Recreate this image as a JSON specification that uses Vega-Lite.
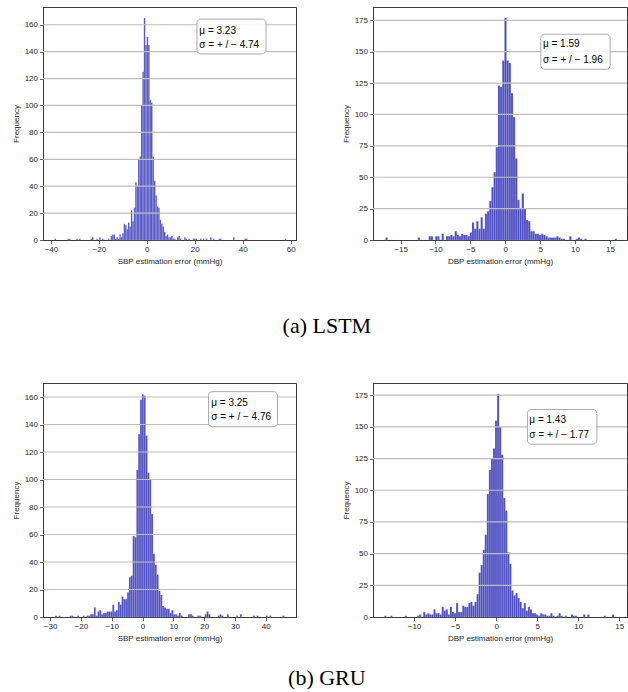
{
 "$schema": "https://vega.github.io/schema/vega-lite/v6.json",
 "background": "white",
 "padding": {"left": 11, "top": 6, "right": 0, "bottom": 0},
 "config": {
  "view": {"stroke": "#3a3a3a", "strokeWidth": 1},
  "axis": {"labelFont": "Liberation Sans", "labelFontSize": 8, "labelColor": "#262626", "titleFont": "Liberation Sans", "titleFontSize": 8, "titleFontWeight": "normal", "titleColor": "#262626", "tickColor": "#3a3a3a", "tickSize": 3.5, "tickWidth": 0.8, "domainColor": "#3a3a3a", "grid": false, "zindex": 1, "labelPadding": 2, "titlePadding": 4, "labelFlush": false, "labelOverlap": false, "labelBound": false},
  "axisY": {"titlePadding": 4}
 },
 "datasets": {
  "A": [{"s":-38.45,"e":-37.85,"n":1},{"s":-33.05,"e":-32.45,"n":1},{"s":-32.45,"e":-31.85,"n":1},{"s":-29.45,"e":-28.85,"n":1},{"s":-28.25,"e":-27.65,"n":1},{"s":-23.45,"e":-22.85,"n":1},{"s":-22.85,"e":-22.25,"n":2},{"s":-21.05,"e":-20.45,"n":1},{"s":-19.85,"e":-19.25,"n":2},{"s":-18.65,"e":-18.05,"n":1},{"s":-16.25,"e":-15.65,"n":1},{"s":-15.05,"e":-14.45,"n":3},{"s":-14.45,"e":-13.85,"n":4},{"s":-13.85,"e":-13.25,"n":4},{"s":-13.25,"e":-12.65,"n":1},{"s":-12.65,"e":-12.05,"n":2},{"s":-12.05,"e":-11.45,"n":1},{"s":-11.45,"e":-10.85,"n":4},{"s":-10.85,"e":-10.25,"n":2},{"s":-10.25,"e":-9.65,"n":5},{"s":-9.65,"e":-9.05,"n":12},{"s":-9.05,"e":-8.45,"n":11},{"s":-8.45,"e":-7.85,"n":8},{"s":-7.85,"e":-7.25,"n":13},{"s":-7.25,"e":-6.65,"n":10},{"s":-6.65,"e":-6.05,"n":22},{"s":-6.05,"e":-5.45,"n":14},{"s":-5.45,"e":-4.85,"n":24},{"s":-4.85,"e":-4.25,"n":43},{"s":-4.25,"e":-3.65,"n":40},{"s":-3.65,"e":-3.05,"n":60},{"s":-3.05,"e":-2.45,"n":62},{"s":-2.45,"e":-1.85,"n":100},{"s":-1.85,"e":-1.25,"n":125},{"s":-1.25,"e":-0.65,"n":165},{"s":-0.65,"e":-0.05,"n":145},{"s":-0.05,"e":0.55,"n":151},{"s":0.55,"e":1.15,"n":145},{"s":1.15,"e":1.75,"n":104},{"s":1.75,"e":2.35,"n":102},{"s":2.35,"e":2.95,"n":62},{"s":2.95,"e":3.55,"n":44},{"s":3.55,"e":4.15,"n":33},{"s":4.15,"e":4.75,"n":25},{"s":4.75,"e":5.35,"n":24},{"s":5.35,"e":5.95,"n":15},{"s":5.95,"e":6.55,"n":12},{"s":6.55,"e":7.15,"n":10},{"s":7.15,"e":7.75,"n":6},{"s":7.75,"e":8.35,"n":3},{"s":8.35,"e":8.95,"n":4},{"s":8.95,"e":9.55,"n":2},{"s":9.55,"e":10.15,"n":2},{"s":10.15,"e":10.75,"n":3},{"s":10.75,"e":11.35,"n":1},{"s":11.35,"e":11.95,"n":1},{"s":12.55,"e":13.15,"n":2},{"s":13.15,"e":13.75,"n":3},{"s":13.75,"e":14.35,"n":1},{"s":15.55,"e":16.15,"n":2},{"s":16.15,"e":16.75,"n":1},{"s":17.35,"e":17.95,"n":1},{"s":19.15,"e":19.75,"n":1},{"s":19.75,"e":20.35,"n":1},{"s":20.35,"e":20.95,"n":1},{"s":22.15,"e":22.75,"n":1},{"s":23.35,"e":23.95,"n":1},{"s":24.55,"e":25.15,"n":1},{"s":26.35,"e":26.95,"n":2},{"s":27.55,"e":28.15,"n":1},{"s":29.95,"e":30.55,"n":1},{"s":30.55,"e":31.15,"n":1},{"s":35.95,"e":36.55,"n":2},{"s":40.75,"e":41.35,"n":1},{"s":41.35,"e":41.95,"n":1},{"s":57.55,"e":58.15,"n":1}],
  "B": [{"s":-17.17,"e":-16.86,"n":2},{"s":-12.52,"e":-12.21,"n":2},{"s":-10.97,"e":-10.66,"n":3},{"s":-10.66,"e":-10.35,"n":3},{"s":-10.04,"e":-9.73,"n":3},{"s":-9.73,"e":-9.42,"n":3},{"s":-9.11,"e":-8.8,"n":5},{"s":-8.49,"e":-8.18,"n":3},{"s":-8.18,"e":-7.87,"n":3},{"s":-7.87,"e":-7.56,"n":4},{"s":-7.56,"e":-7.25,"n":3},{"s":-7.25,"e":-6.94,"n":7},{"s":-6.94,"e":-6.63,"n":4},{"s":-6.63,"e":-6.32,"n":3},{"s":-6.32,"e":-6.01,"n":5},{"s":-6.01,"e":-5.7,"n":4},{"s":-5.7,"e":-5.39,"n":4},{"s":-5.39,"e":-5.08,"n":3},{"s":-5.08,"e":-4.77,"n":6},{"s":-4.77,"e":-4.46,"n":14},{"s":-4.46,"e":-4.15,"n":9},{"s":-4.15,"e":-3.84,"n":15},{"s":-3.84,"e":-3.53,"n":9},{"s":-3.53,"e":-3.22,"n":18},{"s":-3.22,"e":-2.91,"n":9},{"s":-2.91,"e":-2.6,"n":21},{"s":-2.6,"e":-2.29,"n":23},{"s":-2.29,"e":-1.98,"n":31},{"s":-1.98,"e":-1.67,"n":42},{"s":-1.67,"e":-1.36,"n":54},{"s":-1.36,"e":-1.05,"n":74},{"s":-1.05,"e":-0.74,"n":123},{"s":-0.74,"e":-0.43,"n":122},{"s":-0.43,"e":-0.12,"n":143},{"s":-0.12,"e":0.19,"n":177},{"s":0.19,"e":0.5,"n":143},{"s":0.5,"e":0.81,"n":141},{"s":0.81,"e":1.12,"n":117},{"s":1.12,"e":1.43,"n":98},{"s":1.43,"e":1.74,"n":65},{"s":1.74,"e":2.05,"n":32},{"s":2.05,"e":2.36,"n":25},{"s":2.36,"e":2.67,"n":37},{"s":2.67,"e":2.98,"n":25},{"s":2.98,"e":3.29,"n":16},{"s":3.29,"e":3.6,"n":15},{"s":3.6,"e":3.91,"n":7},{"s":3.91,"e":4.22,"n":7},{"s":4.22,"e":4.53,"n":5},{"s":4.53,"e":4.84,"n":5},{"s":4.84,"e":5.15,"n":4},{"s":5.15,"e":5.46,"n":5},{"s":5.46,"e":5.77,"n":4},{"s":5.77,"e":6.08,"n":3},{"s":6.08,"e":6.39,"n":2},{"s":6.39,"e":6.7,"n":2},{"s":6.7,"e":7.01,"n":2},{"s":7.01,"e":7.32,"n":2},{"s":7.32,"e":7.63,"n":3},{"s":7.63,"e":7.94,"n":2},{"s":7.94,"e":8.25,"n":1},{"s":8.25,"e":8.56,"n":1},{"s":9.18,"e":9.49,"n":3},{"s":10.11,"e":10.42,"n":1},{"s":10.42,"e":10.73,"n":2},{"s":10.73,"e":11.04,"n":1},{"s":11.35,"e":11.66,"n":1},{"s":15.69,"e":16.0,"n":1}],
  "C": [{"s":-28.4,"e":-27.8,"n":1},{"s":-27.2,"e":-26.6,"n":1},{"s":-23.6,"e":-23.0,"n":1},{"s":-23.0,"e":-22.4,"n":1},{"s":-21.2,"e":-20.6,"n":1},{"s":-19.4,"e":-18.8,"n":1},{"s":-18.2,"e":-17.6,"n":1},{"s":-17.6,"e":-17.0,"n":1},{"s":-17.0,"e":-16.4,"n":2},{"s":-16.4,"e":-15.8,"n":2},{"s":-15.8,"e":-15.2,"n":7},{"s":-15.2,"e":-14.6,"n":1},{"s":-14.6,"e":-14.0,"n":4},{"s":-14.0,"e":-13.4,"n":5},{"s":-13.4,"e":-12.8,"n":2},{"s":-12.8,"e":-12.2,"n":3},{"s":-12.2,"e":-11.6,"n":3},{"s":-11.6,"e":-11.0,"n":4},{"s":-11.0,"e":-10.4,"n":4},{"s":-10.4,"e":-9.8,"n":4},{"s":-9.8,"e":-9.2,"n":9},{"s":-9.2,"e":-8.6,"n":4},{"s":-8.6,"e":-8.0,"n":5},{"s":-8.0,"e":-7.4,"n":11},{"s":-7.4,"e":-6.8,"n":9},{"s":-6.8,"e":-6.2,"n":15},{"s":-6.2,"e":-5.6,"n":13},{"s":-5.6,"e":-5.0,"n":13},{"s":-5.0,"e":-4.4,"n":18},{"s":-4.4,"e":-3.8,"n":29},{"s":-3.8,"e":-3.2,"n":30},{"s":-3.2,"e":-2.6,"n":59},{"s":-2.6,"e":-2.0,"n":58},{"s":-2.0,"e":-1.4,"n":107},{"s":-1.4,"e":-0.8,"n":133},{"s":-0.8,"e":-0.2,"n":158},{"s":-0.2,"e":0.4,"n":162},{"s":0.4,"e":1.0,"n":161},{"s":1.0,"e":1.6,"n":132},{"s":1.6,"e":2.2,"n":105},{"s":2.2,"e":2.8,"n":100},{"s":2.8,"e":3.4,"n":75},{"s":3.4,"e":4.0,"n":46},{"s":4.0,"e":4.6,"n":38},{"s":4.6,"e":5.2,"n":31},{"s":5.2,"e":5.8,"n":19},{"s":5.8,"e":6.4,"n":16},{"s":6.4,"e":7.0,"n":8},{"s":7.0,"e":7.6,"n":7},{"s":7.6,"e":8.2,"n":6},{"s":8.2,"e":8.8,"n":6},{"s":8.8,"e":9.4,"n":3},{"s":9.4,"e":10.0,"n":5},{"s":10.0,"e":10.6,"n":2},{"s":10.6,"e":11.2,"n":2},{"s":11.2,"e":11.8,"n":1},{"s":11.8,"e":12.4,"n":3},{"s":12.4,"e":13.0,"n":1},{"s":14.8,"e":15.4,"n":2},{"s":15.4,"e":16.0,"n":2},{"s":16.0,"e":16.6,"n":1},{"s":17.8,"e":18.4,"n":1},{"s":18.4,"e":19.0,"n":1},{"s":20.2,"e":20.8,"n":2},{"s":20.8,"e":21.4,"n":4},{"s":21.4,"e":22.0,"n":2},{"s":24.4,"e":25.0,"n":1},{"s":25.0,"e":25.6,"n":2},{"s":25.6,"e":26.2,"n":1},{"s":27.4,"e":28.0,"n":2},{"s":30.4,"e":31.0,"n":1},{"s":31.6,"e":32.2,"n":2},{"s":35.8,"e":36.4,"n":1},{"s":37.0,"e":37.6,"n":1},{"s":40.0,"e":40.6,"n":1},{"s":41.2,"e":41.8,"n":1},{"s":45.4,"e":46.0,"n":1}],
  "D": [{"s":-13.63,"e":-13.38,"n":1},{"s":-12.88,"e":-12.63,"n":1},{"s":-11.13,"e":-10.88,"n":1},{"s":-9.63,"e":-9.38,"n":1},{"s":-9.38,"e":-9.13,"n":2},{"s":-8.88,"e":-8.63,"n":4},{"s":-8.63,"e":-8.38,"n":2},{"s":-8.38,"e":-8.13,"n":3},{"s":-8.13,"e":-7.88,"n":2},{"s":-7.88,"e":-7.63,"n":2},{"s":-7.63,"e":-7.38,"n":6},{"s":-7.38,"e":-7.13,"n":3},{"s":-7.13,"e":-6.88,"n":3},{"s":-6.88,"e":-6.63,"n":2},{"s":-6.63,"e":-6.38,"n":8},{"s":-6.38,"e":-6.13,"n":5},{"s":-6.13,"e":-5.88,"n":6},{"s":-5.88,"e":-5.63,"n":2},{"s":-5.63,"e":-5.38,"n":8},{"s":-5.38,"e":-5.13,"n":4},{"s":-5.13,"e":-4.88,"n":3},{"s":-4.88,"e":-4.63,"n":11},{"s":-4.63,"e":-4.38,"n":4},{"s":-4.38,"e":-4.13,"n":4},{"s":-4.13,"e":-3.88,"n":9},{"s":-3.88,"e":-3.63,"n":8},{"s":-3.63,"e":-3.38,"n":8},{"s":-3.38,"e":-3.13,"n":11},{"s":-3.13,"e":-2.88,"n":12},{"s":-2.88,"e":-2.63,"n":9},{"s":-2.63,"e":-2.38,"n":12},{"s":-2.38,"e":-2.13,"n":18},{"s":-2.13,"e":-1.88,"n":35},{"s":-1.88,"e":-1.63,"n":41},{"s":-1.63,"e":-1.38,"n":53},{"s":-1.38,"e":-1.13,"n":65},{"s":-1.13,"e":-0.88,"n":97},{"s":-0.88,"e":-0.63,"n":116},{"s":-0.63,"e":-0.38,"n":125},{"s":-0.38,"e":-0.13,"n":133},{"s":-0.13,"e":0.12,"n":155},{"s":0.12,"e":0.37,"n":176},{"s":0.37,"e":0.62,"n":150},{"s":0.62,"e":0.87,"n":128},{"s":0.87,"e":1.12,"n":94},{"s":1.12,"e":1.37,"n":84},{"s":1.37,"e":1.62,"n":51},{"s":1.62,"e":1.87,"n":42},{"s":1.87,"e":2.12,"n":21},{"s":2.12,"e":2.37,"n":17},{"s":2.37,"e":2.62,"n":19},{"s":2.62,"e":2.87,"n":15},{"s":2.87,"e":3.12,"n":12},{"s":3.12,"e":3.37,"n":7},{"s":3.37,"e":3.62,"n":11},{"s":3.62,"e":3.87,"n":5},{"s":3.87,"e":4.12,"n":8},{"s":4.12,"e":4.37,"n":6},{"s":4.37,"e":4.62,"n":3},{"s":4.62,"e":4.87,"n":3},{"s":4.87,"e":5.12,"n":2},{"s":5.12,"e":5.37,"n":1},{"s":5.37,"e":5.62,"n":3},{"s":5.62,"e":5.87,"n":2},{"s":5.87,"e":6.12,"n":2},{"s":6.12,"e":6.37,"n":1},{"s":6.37,"e":6.62,"n":1},{"s":6.62,"e":6.87,"n":3},{"s":6.87,"e":7.12,"n":1},{"s":7.37,"e":7.62,"n":1},{"s":7.62,"e":7.87,"n":3},{"s":7.87,"e":8.12,"n":1},{"s":8.37,"e":8.62,"n":1},{"s":9.12,"e":9.37,"n":2},{"s":9.37,"e":9.62,"n":1},{"s":9.62,"e":9.87,"n":1},{"s":10.62,"e":10.87,"n":2},{"s":11.12,"e":11.37,"n":2},{"s":13.12,"e":13.37,"n":1},{"s":14.12,"e":14.37,"n":2}]
 },
 "spacing": 45,
 "resolve": {"scale": {"x": "independent", "y": "independent"}},
 "vconcat": [
  {
   "title": {"text": "(a) LSTM", "orient": "bottom", "anchor": "middle", "font": "Liberation Serif", "fontSize": 22, "fontWeight": "normal", "color": "black", "offset": 50, "dx": 7},
   "spacing": 43,
   "resolve": {"scale": {"x": "independent", "y": "independent"}},
   "hconcat": [
    {
     "width": 253, "height": 233,
     "layer": [
      {"data": {"name": "A"},
       "mark": {"type": "bar", "fill": "#0000aa", "fillOpacity": 0.7, "stroke": "#ffffff", "strokeWidth": 0.25, "strokeOpacity": 0.6},
       "encoding": {
        "x": {"field": "s", "type": "quantitative", "scale": {"domain": [-43.3, 62.2], "nice": false, "zero": false}, "axis": {"values": [-40, -20, 0, 20, 40, 60], "tickCount": 30, "title": "SBP estimation error (mmHg)", "labelOverlap": false}},
        "x2": {"field": "e"},
        "y": {"field": "n", "type": "quantitative", "scale": {"domain": [0, 173.2], "nice": false}, "axis": {"values": [0, 20, 40, 60, 80, 100, 120, 140, 160], "tickCount": 30, "title": "Frequency", "labelOverlap": false}},
        "y2": {"datum": 0}
       }},
      {"data": {"values": [{}]},
       "layer": [
        {"mark": {"type": "rule", "color": "#bdbdbd", "strokeWidth": 1.2}, "encoding": {"y": {"datum": 20}}},
        {"mark": {"type": "rule", "color": "#bdbdbd", "strokeWidth": 1.2}, "encoding": {"y": {"datum": 40}}},
        {"mark": {"type": "rule", "color": "#bdbdbd", "strokeWidth": 1.2}, "encoding": {"y": {"datum": 60}}},
        {"mark": {"type": "rule", "color": "#bdbdbd", "strokeWidth": 1.2}, "encoding": {"y": {"datum": 80}}},
        {"mark": {"type": "rule", "color": "#bdbdbd", "strokeWidth": 1.2}, "encoding": {"y": {"datum": 100}}},
        {"mark": {"type": "rule", "color": "#bdbdbd", "strokeWidth": 1.2}, "encoding": {"y": {"datum": 120}}},
        {"mark": {"type": "rule", "color": "#bdbdbd", "strokeWidth": 1.2}, "encoding": {"y": {"datum": 140}}},
        {"mark": {"type": "rule", "color": "#bdbdbd", "strokeWidth": 1.2}, "encoding": {"y": {"datum": 160}}},
        {"mark": {"type": "rect", "fill": "white", "fillOpacity": 0.85, "stroke": "#aaaaaa", "strokeWidth": 1, "cornerRadius": 4}, "encoding": {"x": {"datum": 20.9}, "x2": {"datum": 49.7}, "y": {"datum": 138.3}, "y2": {"datum": 164.2}}},
        {"mark": {"type": "text", "align": "left", "baseline": "middle", "font": "Liberation Sans", "fontSize": 10, "color": "black"}, "encoding": {"x": {"datum": 21.9}, "y": {"datum": 155.3}, "text": {"value": "μ = 3.23"}}},
        {"mark": {"type": "text", "align": "left", "baseline": "middle", "font": "Liberation Sans", "fontSize": 10, "color": "black"}, "encoding": {"x": {"datum": 21.9}, "y": {"datum": 145}, "text": {"value": "σ =  + / − 4.74"}}}
       ]}
     ]
    },
    {
     "width": 254, "height": 233,
     "layer": [
      {"data": {"name": "B"},
       "mark": {"type": "bar", "fill": "#0000aa", "fillOpacity": 0.7, "stroke": "#ffffff", "strokeWidth": 0.25, "strokeOpacity": 0.6},
       "encoding": {
        "x": {"field": "s", "type": "quantitative", "scale": {"domain": [-18.95, 17.45], "nice": false, "zero": false}, "axis": {"values": [-15, -10, -5, 0, 5, 10, 15], "tickCount": 30, "title": "DBP estimation error (mmHg)", "labelOverlap": false}},
        "x2": {"field": "e"},
        "y": {"field": "n", "type": "quantitative", "scale": {"domain": [0, 185.6], "nice": false}, "axis": {"values": [0, 25, 50, 75, 100, 125, 150, 175], "tickCount": 30, "title": "Frequency", "labelOverlap": false}},
        "y2": {"datum": 0}
       }},
      {"data": {"values": [{}]},
       "layer": [
        {"mark": {"type": "rule", "color": "#bdbdbd", "strokeWidth": 1.2}, "encoding": {"y": {"datum": 25}}},
        {"mark": {"type": "rule", "color": "#bdbdbd", "strokeWidth": 1.2}, "encoding": {"y": {"datum": 50}}},
        {"mark": {"type": "rule", "color": "#bdbdbd", "strokeWidth": 1.2}, "encoding": {"y": {"datum": 75}}},
        {"mark": {"type": "rule", "color": "#bdbdbd", "strokeWidth": 1.2}, "encoding": {"y": {"datum": 100}}},
        {"mark": {"type": "rule", "color": "#bdbdbd", "strokeWidth": 1.2}, "encoding": {"y": {"datum": 125}}},
        {"mark": {"type": "rule", "color": "#bdbdbd", "strokeWidth": 1.2}, "encoding": {"y": {"datum": 150}}},
        {"mark": {"type": "rule", "color": "#bdbdbd", "strokeWidth": 1.2}, "encoding": {"y": {"datum": 175}}},
        {"mark": {"type": "rect", "fill": "white", "fillOpacity": 0.85, "stroke": "#aaaaaa", "strokeWidth": 1, "cornerRadius": 4}, "encoding": {"x": {"datum": 5.1}, "x2": {"datum": 15.04}, "y": {"datum": 136.0}, "y2": {"datum": 163.9}}},
        {"mark": {"type": "text", "align": "left", "baseline": "middle", "font": "Liberation Sans", "fontSize": 10, "color": "black"}, "encoding": {"x": {"datum": 5.4}, "y": {"datum": 156}, "text": {"value": "μ = 1.59"}}},
        {"mark": {"type": "text", "align": "left", "baseline": "middle", "font": "Liberation Sans", "fontSize": 10, "color": "black"}, "encoding": {"x": {"datum": 5.4}, "y": {"datum": 143.4}, "text": {"value": "σ =  + / − 1.96"}}}
       ]}
     ]
    }
   ]
  },
  {
   "title": {"text": "(b) GRU", "orient": "bottom", "anchor": "middle", "font": "Liberation Serif", "fontSize": 22, "fontWeight": "normal", "color": "black", "offset": 25, "dx": 7},
   "spacing": 43,
   "resolve": {"scale": {"x": "independent", "y": "independent"}},
   "hconcat": [
    {
     "width": 253, "height": 234,
     "layer": [
      {"data": {"name": "C"},
       "mark": {"type": "bar", "fill": "#0000aa", "fillOpacity": 0.7, "stroke": "#ffffff", "strokeWidth": 0.25, "strokeOpacity": 0.6},
       "encoding": {
        "x": {"field": "s", "type": "quantitative", "scale": {"domain": [-32.3, 49.8], "nice": false, "zero": false}, "axis": {"values": [-30, -20, -10, 0, 10, 20, 30, 40], "tickCount": 30, "title": "SBP estimation error (mmHg)", "labelOverlap": false}},
        "x2": {"field": "e"},
        "y": {"field": "n", "type": "quantitative", "scale": {"domain": [0, 170.2], "nice": false}, "axis": {"values": [0, 20, 40, 60, 80, 100, 120, 140, 160], "tickCount": 30, "title": "Frequency", "labelOverlap": false}},
        "y2": {"datum": 0}
       }},
      {"data": {"values": [{}]},
       "layer": [
        {"mark": {"type": "rule", "color": "#bdbdbd", "strokeWidth": 1.2}, "encoding": {"y": {"datum": 20}}},
        {"mark": {"type": "rule", "color": "#bdbdbd", "strokeWidth": 1.2}, "encoding": {"y": {"datum": 40}}},
        {"mark": {"type": "rule", "color": "#bdbdbd", "strokeWidth": 1.2}, "encoding": {"y": {"datum": 60}}},
        {"mark": {"type": "rule", "color": "#bdbdbd", "strokeWidth": 1.2}, "encoding": {"y": {"datum": 80}}},
        {"mark": {"type": "rule", "color": "#bdbdbd", "strokeWidth": 1.2}, "encoding": {"y": {"datum": 100}}},
        {"mark": {"type": "rule", "color": "#bdbdbd", "strokeWidth": 1.2}, "encoding": {"y": {"datum": 120}}},
        {"mark": {"type": "rule", "color": "#bdbdbd", "strokeWidth": 1.2}, "encoding": {"y": {"datum": 140}}},
        {"mark": {"type": "rule", "color": "#bdbdbd", "strokeWidth": 1.2}, "encoding": {"y": {"datum": 160}}},
        {"mark": {"type": "rect", "fill": "white", "fillOpacity": 0.85, "stroke": "#aaaaaa", "strokeWidth": 1, "cornerRadius": 4}, "encoding": {"x": {"datum": 21.4}, "x2": {"datum": 43.8}, "y": {"datum": 138.4}, "y2": {"datum": 163.9}}},
        {"mark": {"type": "text", "align": "left", "baseline": "middle", "font": "Liberation Sans", "fontSize": 10, "color": "black"}, "encoding": {"x": {"datum": 22.3}, "y": {"datum": 155.9}, "text": {"value": "μ = 3.25"}}},
        {"mark": {"type": "text", "align": "left", "baseline": "middle", "font": "Liberation Sans", "fontSize": 10, "color": "black"}, "encoding": {"x": {"datum": 22.3}, "y": {"datum": 145.7}, "text": {"value": "σ =  + / − 4.76"}}}
       ]}
     ]
    },
    {
     "width": 254, "height": 234,
     "layer": [
      {"data": {"name": "D"},
       "mark": {"type": "bar", "fill": "#0000aa", "fillOpacity": 0.7, "stroke": "#ffffff", "strokeWidth": 0.25, "strokeOpacity": 0.6},
       "encoding": {
        "x": {"field": "s", "type": "quantitative", "scale": {"domain": [-15.0, 15.95], "nice": false, "zero": false}, "axis": {"values": [-10, -5, 0, 5, 10, 15], "tickCount": 30, "title": "DBP estimation error (mmHg)", "labelOverlap": false}},
        "x2": {"field": "e"},
        "y": {"field": "n", "type": "quantitative", "scale": {"domain": [0, 184.6], "nice": false}, "axis": {"values": [0, 25, 50, 75, 100, 125, 150, 175], "tickCount": 30, "title": "Frequency", "labelOverlap": false}},
        "y2": {"datum": 0}
       }},
      {"data": {"values": [{}]},
       "layer": [
        {"mark": {"type": "rule", "color": "#bdbdbd", "strokeWidth": 1.2}, "encoding": {"y": {"datum": 25}}},
        {"mark": {"type": "rule", "color": "#bdbdbd", "strokeWidth": 1.2}, "encoding": {"y": {"datum": 50}}},
        {"mark": {"type": "rule", "color": "#bdbdbd", "strokeWidth": 1.2}, "encoding": {"y": {"datum": 75}}},
        {"mark": {"type": "rule", "color": "#bdbdbd", "strokeWidth": 1.2}, "encoding": {"y": {"datum": 100}}},
        {"mark": {"type": "rule", "color": "#bdbdbd", "strokeWidth": 1.2}, "encoding": {"y": {"datum": 125}}},
        {"mark": {"type": "rule", "color": "#bdbdbd", "strokeWidth": 1.2}, "encoding": {"y": {"datum": 150}}},
        {"mark": {"type": "rule", "color": "#bdbdbd", "strokeWidth": 1.2}, "encoding": {"y": {"datum": 175}}},
        {"mark": {"type": "rect", "fill": "white", "fillOpacity": 0.85, "stroke": "#aaaaaa", "strokeWidth": 1, "cornerRadius": 4}, "encoding": {"x": {"datum": 3.82}, "x2": {"datum": 12.28}, "y": {"datum": 136.3}, "y2": {"datum": 163.7}}},
        {"mark": {"type": "text", "align": "left", "baseline": "middle", "font": "Liberation Sans", "fontSize": 10, "color": "black"}, "encoding": {"x": {"datum": 4.05}, "y": {"datum": 155.8}, "text": {"value": "μ = 1.43"}}},
        {"mark": {"type": "text", "align": "left", "baseline": "middle", "font": "Liberation Sans", "fontSize": 10, "color": "black"}, "encoding": {"x": {"datum": 4.05}, "y": {"datum": 143.4}, "text": {"value": "σ =  + / − 1.77"}}}
       ]}
     ]
    }
   ]
  }
 ]
}
